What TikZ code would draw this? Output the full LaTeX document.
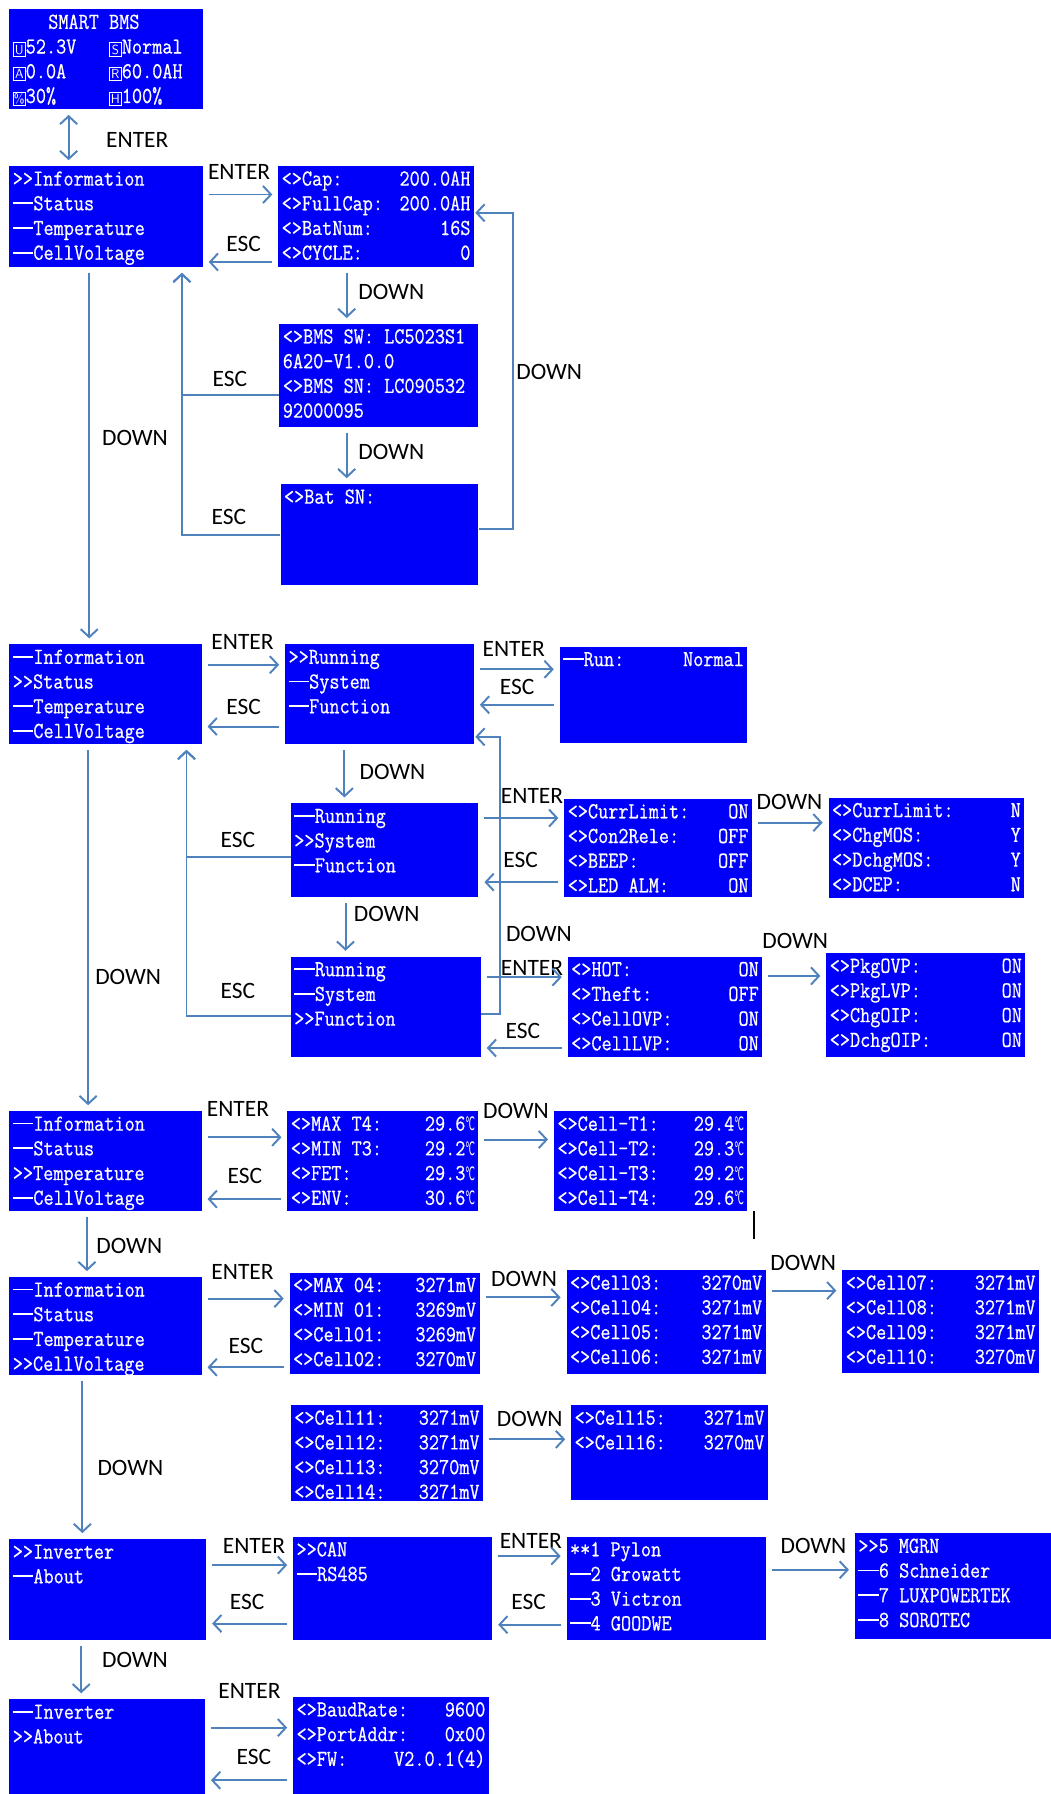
\documentclass[tikz,border=0pt]{standalone}
\usepackage{fontspec}
\setmainfont{Carlito}
\newfontfamily\symfont{DejaVu Sans}
\newfontfamily\lcdfont{Latin Modern Mono}[FakeStretch=0.86,FakeBold=0.6]
\usepackage{tikz}
\usetikzlibrary{arrows.meta,positioning}
\definecolor{lcdblue}{RGB}{0,0,250}
\definecolor{arrowblue}{RGB}{79,129,189}

\newcommand{\lcdline}[2]{\hbox to \linewidth{\rule{0pt}{14pt}#1\hfill #2}}
\newcommand{\lcdscreen}[3]{\parbox[t][\dimexpr #2-6pt\relax][t]{\dimexpr #1-6pt\relax}{#3}}
\newcommand{\lcddash}{\rule[0.27em]{0.9em}{0.08em}}
\newcommand{\lcdicon}[1]{{\fboxsep=1pt\fboxrule=0.9pt\raisebox{-0.5pt}{\fbox{\makebox[7.5pt]{\rule{0pt}{8.5pt}\sffamily\fontsize{11.5}{11.5}\selectfont #1}}}}}
\newcommand{\degc}{\resizebox{0.42em}{0.6em}{\symfont ℃}}

\begin{document}
\begin{tikzpicture}[x=1pt,y=-1pt,
  >={Straight Barb[length=7pt,width=15pt]},
  lcd/.style={fill=lcdblue,text=white,anchor=north west,inner xsep=3pt,inner ysep=3pt,
    font=\lcdfont\fontsize{20}{21.6}\selectfont},
  lbl/.style={font=\fontsize{20.5}{22}\selectfont,inner sep=0pt},
  arr/.style={->,draw=arrowblue,line width=1.7pt,shorten <=5pt,shorten >=5pt}]
      \useasboundingbox (0,0) rectangle (918,1568);
      % screens
      \node[lcd] at (8,8) (main) {\lcdscreen{169pt}{87pt}{%
        \lcdline{\hspace*{31pt}SMART BMS}{}
        \lcdline{\makebox[84pt][l]{\lcdicon{U}52.3V}\lcdicon{S}Normal}{}
        \lcdline{\makebox[84pt][l]{\lcdicon{A}0.0A}\lcdicon{R}60.0AH}{}
        \lcdline{\makebox[84pt][l]{\lcdicon{\%}30\%}\lcdicon{H}100\%}{}}};
      \node[lcd] at (8,145) (info1) {\lcdscreen{169pt}{88pt}{%
        \lcdline{>>Information}{}
        \lcdline{\lcddash Status}{}
        \lcdline{\lcddash Temperature}{}
        \lcdline{\lcddash CellVoltage}{}}};
      \node[lcd] at (243,145) (cap) {\lcdscreen{171pt}{88pt}{%
        \lcdline{<>Cap:}{200.0AH}
        \lcdline{<>FullCap:}{200.0AH}
        \lcdline{<>BatNum:}{16S}
        \lcdline{<>CYCLE:}{0}}};
      \node[lcd] at (244,283) (bmssw) {\lcdscreen{174pt}{90pt}{%
        \lcdline{<>BMS SW: LC5023S1}{}
        \lcdline{6A20-V1.0.0}{}
        \lcdline{<>BMS SN: LC090532}{}
        \lcdline{92000095}{}}};
      \node[lcd] at (245,423) (batsn) {\lcdscreen{173pt}{88pt}{%
        \lcdline{<>Bat SN:}{}}};
      \node[lcd] at (8,563) (info2) {\lcdscreen{168pt}{87pt}{%
        \lcdline{\lcddash Information}{}
        \lcdline{>>Status}{}
        \lcdline{\lcddash Temperature}{}
        \lcdline{\lcddash CellVoltage}{}}};
      \node[lcd] at (249,563) (running) {\lcdscreen{165pt}{87pt}{%
        \lcdline{>>Running}{}
        \lcdline{\lcddash System}{}
        \lcdline{\lcddash Function}{}}};
      \node[lcd] at (489,565) (run) {\lcdscreen{164pt}{84pt}{%
        \lcdline{\lcddash Run:}{Normal}}};
      \node[lcd] at (254,702) (system) {\lcdscreen{164pt}{82pt}{%
        \lcdline{\lcddash Running}{}
        \lcdline{>>System}{}
        \lcdline{\lcddash Function}{}}};
      \node[lcd] at (493,698) (curr) {\lcdscreen{164pt}{86pt}{%
        \lcdline{<>CurrLimit:}{ON}
        \lcdline{<>Con2Rele:}{OFF}
        \lcdline{<>BEEP:}{OFF}
        \lcdline{<>LED ALM:}{ON}}};
      \node[lcd] at (724,697) (mos) {\lcdscreen{171pt}{88pt}{%
        \lcdline{<>CurrLimit:}{N}
        \lcdline{<>ChgMOS:}{Y}
        \lcdline{<>DchgMOS:}{Y}
        \lcdline{<>DCEP:}{N}}};
      \node[lcd] at (254,836) (function) {\lcdscreen{166pt}{88pt}{%
        \lcdline{\lcddash Running}{}
        \lcdline{\lcddash System}{}
        \lcdline{>>Function}{}}};
      \node[lcd] at (496,836) (hot) {\lcdscreen{170pt}{88pt}{%
        \lcdline{<>HOT:}{ON}
        \lcdline{<>Theft:}{OFF}
        \lcdline{<>CellOVP:}{ON}
        \lcdline{<>CellLVP:}{ON}}};
      \node[lcd] at (722,833) (pkg) {\lcdscreen{174pt}{91pt}{%
        \lcdline{<>PkgOVP:}{ON}
        \lcdline{<>PkgLVP:}{ON}
        \lcdline{<>ChgOIP:}{ON}
        \lcdline{<>DchgOIP:}{ON}}};
      \node[lcd] at (8,971) (info3) {\lcdscreen{168pt}{87pt}{%
        \lcdline{\lcddash Information}{}
        \lcdline{\lcddash Status}{}
        \lcdline{>>Temperature}{}
        \lcdline{\lcddash CellVoltage}{}}};
      \node[lcd] at (251,971) (maxt) {\lcdscreen{167pt}{87pt}{%
        \lcdline{<>MAX T4:}{29.6\degc}
        \lcdline{<>MIN T3:}{29.2\degc}
        \lcdline{<>FET:}{29.3\degc}
        \lcdline{<>ENV:}{30.6\degc}}};
      \node[lcd] at (484,971) (cellt) {\lcdscreen{169pt}{87pt}{%
        \lcdline{<>Cell-T1:}{29.4\degc}
        \lcdline{<>Cell-T2:}{29.3\degc}
        \lcdline{<>Cell-T3:}{29.2\degc}
        \lcdline{<>Cell-T4:}{29.6\degc}}};
      \node[lcd] at (8,1116) (info4) {\lcdscreen{168pt}{86pt}{%
        \lcdline{\lcddash Information}{}
        \lcdline{\lcddash Status}{}
        \lcdline{\lcddash Temperature}{}
        \lcdline{>>CellVoltage}{}}};
      \node[lcd] at (253,1112) (maxv) {\lcdscreen{166pt}{89pt}{%
        \lcdline{<>MAX 04:}{3271mV}
        \lcdline{<>MIN 01:}{3269mV}
        \lcdline{<>Cell01:}{3269mV}
        \lcdline{<>Cell02:}{3270mV}}};
      \node[lcd] at (495,1110) (cellc) {\lcdscreen{174pt}{91pt}{%
        \lcdline{<>Cell03:}{3270mV}
        \lcdline{<>Cell04:}{3271mV}
        \lcdline{<>Cell05:}{3271mV}
        \lcdline{<>Cell06:}{3271mV}}};
      \node[lcd] at (736,1110) (celld) {\lcdscreen{172pt}{90pt}{%
        \lcdline{<>Cell07:}{3271mV}
        \lcdline{<>Cell08:}{3271mV}
        \lcdline{<>Cell09:}{3271mV}
        \lcdline{<>Cell10:}{3270mV}}};
      \node[lcd] at (254,1228) (celle) {\lcdscreen{168pt}{84pt}{%
        \lcdline{<>Cell11:}{3271mV}
        \lcdline{<>Cell12:}{3271mV}
        \lcdline{<>Cell13:}{3270mV}
        \lcdline{<>Cell14:}{3271mV}}};
      \node[lcd] at (499,1228) (cellf) {\lcdscreen{172pt}{83pt}{%
        \lcdline{<>Cell15:}{3271mV}
        \lcdline{<>Cell16:}{3270mV}}};
      \node[lcd] at (8,1345) (inv) {\lcdscreen{172pt}{88pt}{%
        \lcdline{>>Inverter}{}
        \lcdline{\lcddash About}{}}};
      \node[lcd] at (256,1343) (can) {\lcdscreen{174pt}{90pt}{%
        \lcdline{>>CAN}{}
        \lcdline{\lcddash RS485}{}}};
      \node[lcd] at (495,1343) (pylon) {\lcdscreen{174pt}{90pt}{%
        \lcdline{**1 Pylon}{}
        \lcdline{\lcddash 2 Growatt}{}
        \lcdline{\lcddash 3 Victron}{}
        \lcdline{\lcddash 4 GOODWE}{}}};
      \node[lcd] at (747,1340) (mgrn) {\lcdscreen{171pt}{92pt}{%
        \lcdline{>>5 MGRN}{}
        \lcdline{\lcddash 6 Schneider}{}
        \lcdline{\lcddash 7 LUXPOWERTEK}{}
        \lcdline{\lcddash 8 SOROTEC}{}}};
      \node[lcd] at (8,1485) (about) {\lcdscreen{171pt}{83pt}{%
        \lcdline{\lcddash Inverter}{}
        \lcdline{>>About}{}}};
      \node[lcd] at (256,1483) (baud) {\lcdscreen{171pt}{85pt}{%
        \lcdline{<>BaudRate:}{9600}
        \lcdline{<>PortAddr:}{0x00}
        \lcdline{<>FW:}{V2.0.1(4)}}};
      % key labels
      \node[lbl] at (120,122) (k0) {ENTER};
      \node[lbl] at (209,150) (k1) {ENTER};
      \node[lbl] at (213,213) (k2) {ESC};
      \node[lbl] at (342,255) (k3) {DOWN};
      \node[lbl] at (201,331) (k4) {ESC};
      \node[lbl] at (342,395) (k5) {DOWN};
      \node[lbl] at (200,452) (k6) {ESC};
      \node[lbl] at (480,325) (k7) {DOWN};
      \node[lbl] at (118,383) (k8) {DOWN};
      \node[lbl] at (212,561) (k9) {ENTER};
      \node[lbl] at (213,618) (k10) {ESC};
      \node[lbl] at (449,567) (k11) {ENTER};
      \node[lbl] at (452,600) (k12) {ESC};
      \node[lbl] at (343,675) (k13) {DOWN};
      \node[lbl] at (465,696) (k14) {ENTER};
      \node[lbl] at (455,752) (k15) {ESC};
      \node[lbl] at (690,701) (k16) {DOWN};
      \node[lbl] at (208,734) (k17) {ESC};
      \node[lbl] at (338,799) (k18) {DOWN};
      \node[lbl] at (471,816) (k19) {DOWN};
      \node[lbl] at (695,822) (k20) {DOWN};
      \node[lbl] at (465,846) (k21) {ENTER};
      \node[lbl] at (208,866) (k22) {ESC};
      \node[lbl] at (457,901) (k23) {ESC};
      \node[lbl] at (112,854) (k24) {DOWN};
      \node[lbl] at (208,969) (k25) {ENTER};
      \node[lbl] at (214,1028) (k26) {ESC};
      \node[lbl] at (451,971) (k27) {DOWN};
      \node[lbl] at (113,1089) (k28) {DOWN};
      \node[lbl] at (212,1112) (k29) {ENTER};
      \node[lbl] at (215,1176) (k30) {ESC};
      \node[lbl] at (458,1118) (k31) {DOWN};
      \node[lbl] at (702,1104) (k32) {DOWN};
      \node[lbl] at (463,1240) (k33) {DOWN};
      \node[lbl] at (114,1283) (k34) {DOWN};
      \node[lbl] at (222,1351) (k35) {ENTER};
      \node[lbl] at (216,1400) (k36) {ESC};
      \node[lbl] at (464,1347) (k37) {ENTER};
      \node[lbl] at (462,1400) (k38) {ESC};
      \node[lbl] at (711,1351) (k39) {DOWN};
      \node[lbl] at (118,1451) (k40) {DOWN};
      \node[lbl] at (218,1478) (k41) {ENTER};
      \node[lbl] at (222,1536) (k42) {ESC};
      % stray cursor mark
      \coordinate (bartop) at (659,1058);
      \coordinate (barbot) at (659,1083);
      \draw[line width=1.5pt] (bartop) -- (barbot);
      % information
      \draw[arr,<->] (main.south -| 60,0) -- (info1.north -| 60,0);
      \draw[arr] (info1.east |- 0,170) -- (cap.west |- 0,170);
      \draw[arr] (cap.west |- 0,229) -- (info1.east |- 0,229);
      \draw[arr] (cap.south -| 303,0) -- (bmssw.north -| 303,0);
      \draw[arr] (bmssw.south -| 303,0) -- (batsn.north -| 303,0);
      \draw[arr,shorten <=0pt] (bmssw.west |- 0,345) -| (info1.south -| 159,0);
      \draw[arr,shorten <=0pt] (batsn.west |- 0,468) -| (info1.south -| 159,0);
      \draw[arr,shorten <=0pt,shorten >=1pt] (batsn.east |- 0,462) -- ++(30,0) |- (cap.east |- 0,186);
      \draw[arr] (info1.south -| 78,0) -- (info2.north -| 78,0);
      % status
      \draw[arr] (info2.east |- 0,581) -- (running.west |- 0,581);
      \draw[arr] (running.west |- 0,635) -- (info2.east |- 0,635);
      \draw[arr] (running.east |- 0,585) -- (run.west |- 0,585);
      \draw[arr] (run.west |- 0,616) -- (running.east |- 0,616);
      \draw[arr] (running.south -| 301,0) -- (system.north -| 301,0);
      \draw[arr] (system.south -| 302,0) -- (function.north -| 302,0);
      \draw[arr] (system.east |- 0,715) -- (curr.west |- 0,715);
      \draw[arr] (curr.west |- 0,771) -- (system.east |- 0,771);
      \draw[arr] (curr.east |- 0,719) -- (mos.west |- 0,719);
      \draw[arr] (function.east |- 0,854) -- (hot.west |- 0,854);
      \draw[arr] (hot.west |- 0,916) -- (function.east |- 0,916);
      \draw[arr] (hot.east |- 0,853) -- (pkg.west |- 0,853);
      \draw[arr,shorten <=0pt] (system.west |- 0,749) -| (info2.south -| 163,0);
      \draw[arr,shorten <=0pt] (function.west |- 0,888) -| (info2.south -| 163,0);
      \draw[arr,shorten <=0pt,shorten >=1pt] (function.east |- 0,886) -- ++(17,0) |- (running.east |- 0,644);
      \draw[arr] (info2.south -| 77,0) -- (info3.north -| 77,0);
      % temperature
      \draw[arr] (info3.east |- 0,994) -- (maxt.west |- 0,994);
      \draw[arr] (maxt.west |- 0,1048) -- (info3.east |- 0,1048);
      \draw[arr] (maxt.east |- 0,996) -- (cellt.west |- 0,996);
      \draw[arr] (info3.south -| 76,0) -- (info4.north -| 76,0);
      % cell voltage
      \draw[arr] (info4.east |- 0,1135) -- (maxv.west |- 0,1135);
      \draw[arr] (maxv.west |- 0,1195) -- (info4.east |- 0,1195);
      \draw[arr] (maxv.east |- 0,1134) -- (cellc.west |- 0,1134);
      \draw[arr] (cellc.east |- 0,1128) -- (celld.west |- 0,1128);
      \draw[arr] (celle.east |- 0,1258) -- (cellf.west |- 0,1258);
      \draw[arr] (info4.south -| 72,0) -- (inv.north -| 72,0);
      % inverter and about
      \draw[arr] (inv.east |- 0,1368) -- (can.west |- 0,1368);
      \draw[arr] (can.west |- 0,1419) -- (inv.east |- 0,1419);
      \draw[arr] (can.east |- 0,1360) -- (pylon.west |- 0,1360);
      \draw[arr] (pylon.west |- 0,1420) -- (can.east |- 0,1420);
      \draw[arr] (pylon.east |- 0,1372) -- (mgrn.west |- 0,1372);
      \draw[arr] (inv.south -| 71,0) -- (about.north -| 71,0);
      \draw[arr] (about.east |- 0,1510) -- (baud.west |- 0,1510);
      \draw[arr] (baud.west |- 0,1556) -- (about.east |- 0,1556);
\end{tikzpicture}
\end{document}
